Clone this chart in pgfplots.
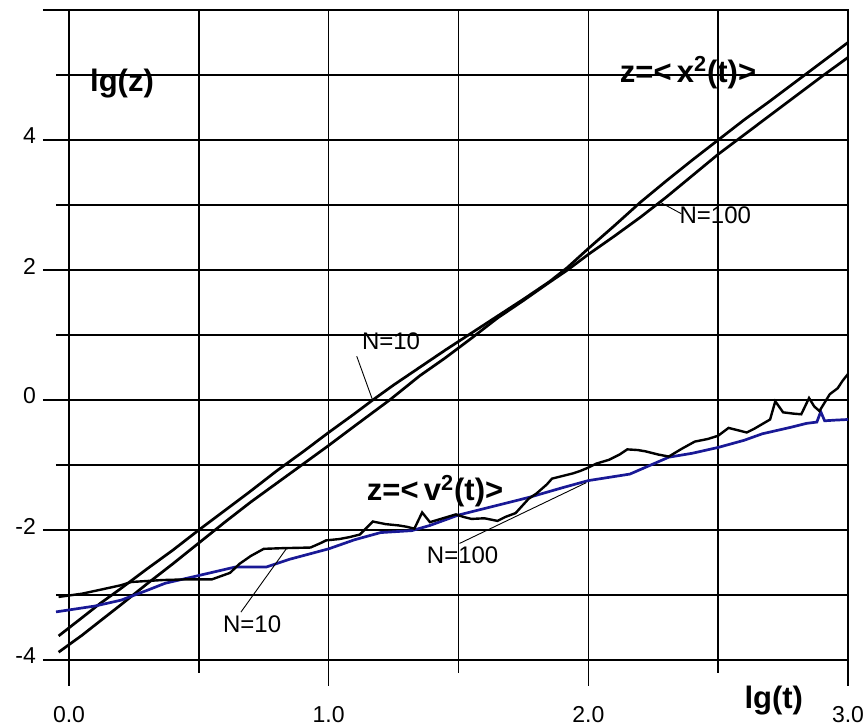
\documentclass[border=0pt]{standalone}
\usepackage{fontspec}
\setmainfont{Liberation Sans}
\usepackage{pgfplots}
\pgfplotsset{compat=1.18}
\definecolor{navy}{RGB}{25,25,150}
\begin{document}
\begin{tikzpicture}
\begin{axis}[
  scale only axis, width=389.5pt, height=325pt,
  xmin=0, xmax=3, ymin=-4, ymax=6, clip=false,
  xtick={0,1,2,3}, xticklabels={0.0,1.0,2.0,3.0},
  minor xtick={0.5,1.5,2.5},
  ytick={-4,-2,0,2,4,6}, yticklabels={-4,-2,0,2,4,{}},
  minor ytick={-3,-1,1,3,5},
  grid=both,
  major grid style={black, line width=0.75pt},
  minor grid style={black, line width=0.75pt},
  tick align=outside, tick pos=left,
  major tick length=13pt, minor tick length=6.5pt,
  tick style={black, line width=0.75pt},
  axis line style={black, line width=0.75pt},
  ticklabel style={font=\fontsize{11.5}{13}\selectfont},
  xticklabel style={yshift=-6.5pt},
  yticklabel style={yshift=2pt},
  /pgf/number format/assume math mode=true,
]
% <x^2> N=10
\addplot[black, line width=1.35pt] coordinates {
(-0.04,-3.63) (0.05,-3.35) (0.12,-3.13) (0.2,-2.90) (0.3,-2.60) (0.4,-2.31)
(0.5,-2.00) (0.6,-1.70) (0.7,-1.40) (0.8,-1.09) (0.9,-0.80) (1.0,-0.50)
(1.1,-0.21) (1.17,0.00) (1.25,0.23) (1.35,0.50) (1.45,0.77) (1.55,1.03)
(1.65,1.29) (1.75,1.55) (1.85,1.82) (1.92,2.04) (2.0,2.33) (2.1,2.68)
(2.2,3.04) (2.3,3.37) (2.4,3.69) (2.5,4.00) (2.6,4.31) (2.7,4.60)
(2.8,4.90) (2.9,5.20) (3.0,5.50)};
% <x^2> N=100
\addplot[black, line width=1.35pt] coordinates {
(-0.04,-3.88) (0.05,-3.62) (0.12,-3.40) (0.2,-3.15) (0.3,-2.83) (0.4,-2.52)
(0.5,-2.20) (0.6,-1.88) (0.7,-1.57) (0.8,-1.28) (0.9,-0.99) (1.0,-0.70)
(1.1,-0.40) (1.235,0.00) (1.35,0.37) (1.45,0.65) (1.55,0.95) (1.65,1.26)
(1.75,1.53) (1.85,1.81) (1.92,2.00) (2.0,2.24) (2.1,2.52) (2.2,2.81)
(2.3,3.12) (2.4,3.45) (2.5,3.78) (2.6,4.08) (2.7,4.38) (2.8,4.68)
(2.9,4.98) (3.0,5.27)};
% <v^2> N=100 (blue)
\addplot[navy, line width=1.35pt] coordinates {
(-0.05,-3.26) (0.1,-3.17) (0.2,-3.08) (0.3,-2.93) (0.37,-2.82) (0.5,-2.70)
(0.64,-2.57) (0.76,-2.57) (0.85,-2.45) (1.0,-2.29) (1.1,-2.15) (1.2,-2.04)
(1.32,-2.01) (1.39,-1.93) (1.5,-1.77) (1.65,-1.62) (1.77,-1.50) (1.9,-1.35)
(2.0,-1.24) (2.16,-1.14) (2.31,-0.88) (2.4,-0.82) (2.5,-0.73) (2.6,-0.62)
(2.67,-0.52) (2.78,-0.42) (2.84,-0.36) (2.88,-0.34) (2.895,-0.18) (2.91,-0.32)
(2.95,-0.31) (3.0,-0.30)};
% <v^2> N=10 (black, noisy)
\addplot[black, line width=1.2pt] coordinates {
(-0.04,-3.03) (0.05,-2.98) (0.12,-2.92) (0.2,-2.85) (0.24,-2.80) (0.36,-2.77)
(0.45,-2.76) (0.55,-2.76) (0.62,-2.66) (0.657,-2.52) (0.70,-2.40) (0.75,-2.29)
(0.82,-2.28) (0.93,-2.27) (0.97,-2.20) (0.99,-2.16) (1.04,-2.14) (1.08,-2.11)
(1.12,-2.07) (1.17,-1.87) (1.22,-1.91) (1.27,-1.93) (1.30,-1.95) (1.33,-1.98)
(1.36,-1.73) (1.39,-1.88) (1.44,-1.82) (1.49,-1.76) (1.52,-1.80) (1.55,-1.83)
(1.60,-1.82) (1.65,-1.86) (1.68,-1.80) (1.72,-1.74) (1.77,-1.52) (1.80,-1.44)
(1.84,-1.30) (1.86,-1.21) (1.90,-1.17) (1.94,-1.13) (1.97,-1.09) (2.00,-1.04)
(2.03,-0.98) (2.08,-0.92) (2.12,-0.84) (2.15,-0.76) (2.19,-0.77) (2.22,-0.79)
(2.27,-0.84) (2.31,-0.87) (2.36,-0.75) (2.41,-0.64) (2.46,-0.60) (2.5,-0.55)
(2.54,-0.43) (2.58,-0.47) (2.61,-0.50) (2.64,-0.44) (2.67,-0.37) (2.70,-0.30)
(2.72,-0.02) (2.75,-0.19) (2.79,-0.21) (2.82,-0.22) (2.85,0.03) (2.87,-0.10)
(2.89,-0.17) (2.93,0.09) (2.96,0.18) (2.98,0.30) (3.0,0.40)};
\addplot[black, line width=1.2pt] coordinates {(2.91,0.0) (3.0,0.0)};
% leader lines
\draw[black, line width=0.45pt] (axis cs:1.108,0.674) -- (axis cs:1.169,0.0);
\draw[black, line width=0.45pt] (axis cs:2.273,3.05) -- (axis cs:2.358,2.866);
\draw[black, line width=0.45pt] (axis cs:1.504,-2.207) -- (axis cs:1.992,-1.272);
\draw[black, line width=0.45pt] (axis cs:0.662,-3.264) -- (axis cs:0.838,-2.283);
% labels
\node[anchor=base west, inner sep=0pt, font=\bfseries\fontsize{15.5}{18}\selectfont] at (axis cs:0.08,4.74) {lg(z)};
\node[anchor=base west, inner sep=0pt, font=\bfseries\fontsize{15.5}{18}\selectfont] at (axis cs:2.12,4.89) {z=<\,x\textsuperscript{2}(t)>};
\node[anchor=base west, inner sep=0pt, font=\bfseries\fontsize{15.5}{18}\selectfont] at (axis cs:2.60,-4.75) {lg(t)};
\node[anchor=base west, inner sep=0pt, font=\bfseries\fontsize{15.5}{18}\selectfont] at (axis cs:1.146,-1.55) {z=<\,v\textsuperscript{2}(t)>};
\node[anchor=base west, inner sep=0pt, font=\fontsize{12}{14}\selectfont] at (axis cs:1.127,0.78) {N=10};
\node[anchor=base west, inner sep=0pt, font=\fontsize{12}{14}\selectfont] at (axis cs:2.35,2.71) {N=100};
\node[anchor=base west, inner sep=0pt, font=\fontsize{12}{14}\selectfont] at (axis cs:1.377,-2.51) {N=100};
\node[anchor=base west, inner sep=0pt, font=\fontsize{12}{14}\selectfont] at (axis cs:0.592,-3.57) {N=10};
\coordinate (sw) at (rel axis cs:0,0);
\coordinate (ne) at (rel axis cs:1,1);
\end{axis}
\pgfresetboundingbox
\path[use as bounding box] ([xshift=-34.5pt,yshift=-32pt]sw) rectangle ([xshift=9pt,yshift=5pt]ne);
\end{tikzpicture}
\end{document}
